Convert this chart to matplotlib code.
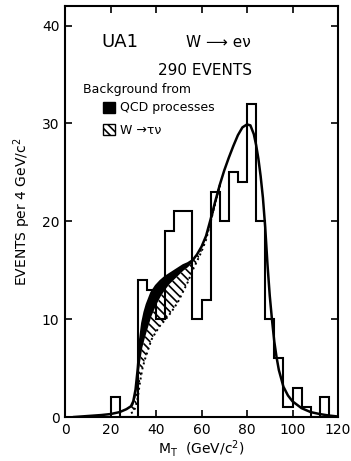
import numpy as np
import matplotlib
matplotlib.use("Agg")
import matplotlib.pyplot as plt
from matplotlib.patches import Rectangle

# ---------------- data ----------------
bin_edges = [20, 24, 28, 32, 36, 40, 44, 48, 52, 56, 60, 64, 68, 72, 76, 80,
             84, 88, 92, 96, 100, 104, 108, 112, 116]
events = [2, 0, 0, 14, 13, 10, 19, 21, 21, 10, 12, 23, 20, 25, 24, 32,
          20, 10, 6, 1, 3, 1, 0, 2]

fit_x = [4, 10, 16, 20, 24, 27, 29, 30, 31, 32, 33, 34, 35, 36, 38, 40, 42,
         44, 46, 48, 50, 52, 54, 56, 58, 60, 62, 64, 66, 68, 70, 72, 74, 76,
         78, 80, 81.5, 83, 84, 85, 86, 87, 88, 89, 90, 91, 92, 93, 94, 96,
         98, 100, 104, 108, 112, 116, 120]
fit_y = [0.0, 0.1, 0.2, 0.3, 0.5, 0.8, 1.1, 1.6, 2.8, 5.0, 7.8, 9.6, 10.7,
         11.5, 12.7, 13.4, 13.9, 14.3, 14.6, 14.9, 15.2, 15.5, 15.7, 16.0,
         16.6, 17.4, 18.5, 20.2, 22.0, 23.7, 25.2, 26.5, 27.7, 28.8, 29.6,
         29.9, 29.8, 28.9, 27.8, 26.4, 24.6, 22.4, 19.4, 15.6, 12.4, 9.9,
         7.7, 6.1, 4.8, 3.1, 2.2, 1.6, 0.9, 0.5, 0.3, 0.15, 0.05]

# background bands (events per bin), at a subset of fit_x points
bg_x = [29, 30, 31, 32, 33, 34, 35, 36, 38, 40, 42, 44, 46, 48, 50, 52, 54,
        56, 58, 60, 62, 64, 66, 68]
qcd_bg = [0.2, 0.4, 0.8, 1.5, 2.2, 2.5, 2.7, 2.7, 2.4, 2.0, 1.6, 1.3, 1.0,
          0.85, 0.7, 0.55, 0.4, 0.25, 0.1, 0.0, 0.0, 0.0, 0.0, 0.0]
wtau_bg = [0.5, 0.7, 1.0, 1.5, 2.0, 2.2, 2.2, 2.3, 2.4, 2.7, 2.9, 3.1, 3.1,
           2.9, 2.6, 2.1, 1.5, 0.8, 0.6, 0.5, 0.4, 0.3, 0.2, 0.0]

x_ticks = [0, 20, 40, 60, 80, 100, 120]
y_ticks = [0, 10, 20, 30, 40]

# ---------------- figure ----------------
plt.rcParams['font.family'] = ['DejaVu Sans']
plt.rcParams['hatch.linewidth'] = 1.2

fig = plt.figure(figsize=(3.51, 4.61), dpi=100)
ax = fig.add_axes([65/351, (461-417)/461, 273/351, 411/461])

fx = np.array(fit_x)
fy = np.array(fit_y)
bx = np.array(bg_x)
idx = [fit_x.index(v) for v in bg_x]
total_bg = fy[idx]
above_tau = total_bg - np.array(qcd_bg)
signal_only = above_tau - np.array(wtau_bg)

# QCD band (black)
ax.fill_between(bx, above_tau, total_bg, facecolor='black', edgecolor='black',
                linewidth=0.6, zorder=2)
# W -> tau nu band (hatched)
ax.fill_between(bx, signal_only, above_tau, facecolor='white', edgecolor='black',
                hatch='\\\\\\\\', linewidth=0, zorder=2)
ax.plot(bx, signal_only, color='black', linestyle=':', linewidth=1.4, zorder=2)

# histogram
ax.stairs(events, bin_edges, baseline=0, color='black', linewidth=1.5, zorder=3)

# fit curve
ax.plot(fx, fy, color='black', linewidth=1.8, zorder=4)

ax.set_xlim(0, 120)
ax.set_ylim(0, 42)
ax.set_xticks(x_ticks)
ax.set_yticks(y_ticks)
ax.tick_params(direction='in', top=True, right=True, length=5, width=1.2,
               labelsize=10, pad=4)
for s in ax.spines.values():
    s.set_linewidth(1.5)

ax.set_xlabel('M$_\\mathregular{T}$  (GeV/c$^\\mathregular{2}$)', fontsize=10, labelpad=1)
ax.set_ylabel('EVENTS per 4 GeV/c$^\\mathregular{2}$', fontsize=10, labelpad=6)

# annotations
ax.text(0.201, 0.912, 'UA1', transform=ax.transAxes, fontsize=13,
        ha='center', va='center')
ax.text(0.443, 0.912, 'W ⟶ eν', transform=ax.transAxes, fontsize=11,
        ha='left', va='center')
ax.text(0.513, 0.842, '290 EVENTS', transform=ax.transAxes, fontsize=11,
        ha='center', va='center')
ax.text(0.066, 0.796, 'Background from', transform=ax.transAxes, fontsize=9,
        ha='left', va='center')
ax.add_patch(Rectangle((0.139, 0.74), 0.044, 0.027, transform=ax.transAxes,
                       facecolor='black', edgecolor='black', linewidth=1))
ax.text(0.201, 0.752, 'QCD processes', transform=ax.transAxes, fontsize=9,
        ha='left', va='center')
ax.add_patch(Rectangle((0.139, 0.686), 0.044, 0.027, transform=ax.transAxes,
                       facecolor='white', edgecolor='black', linewidth=1,
                       hatch='\\\\\\\\'))
ax.text(0.201, 0.698, 'W →τν', transform=ax.transAxes, fontsize=9,
        ha='left', va='center')

fig.savefig('out.png', dpi=100)
